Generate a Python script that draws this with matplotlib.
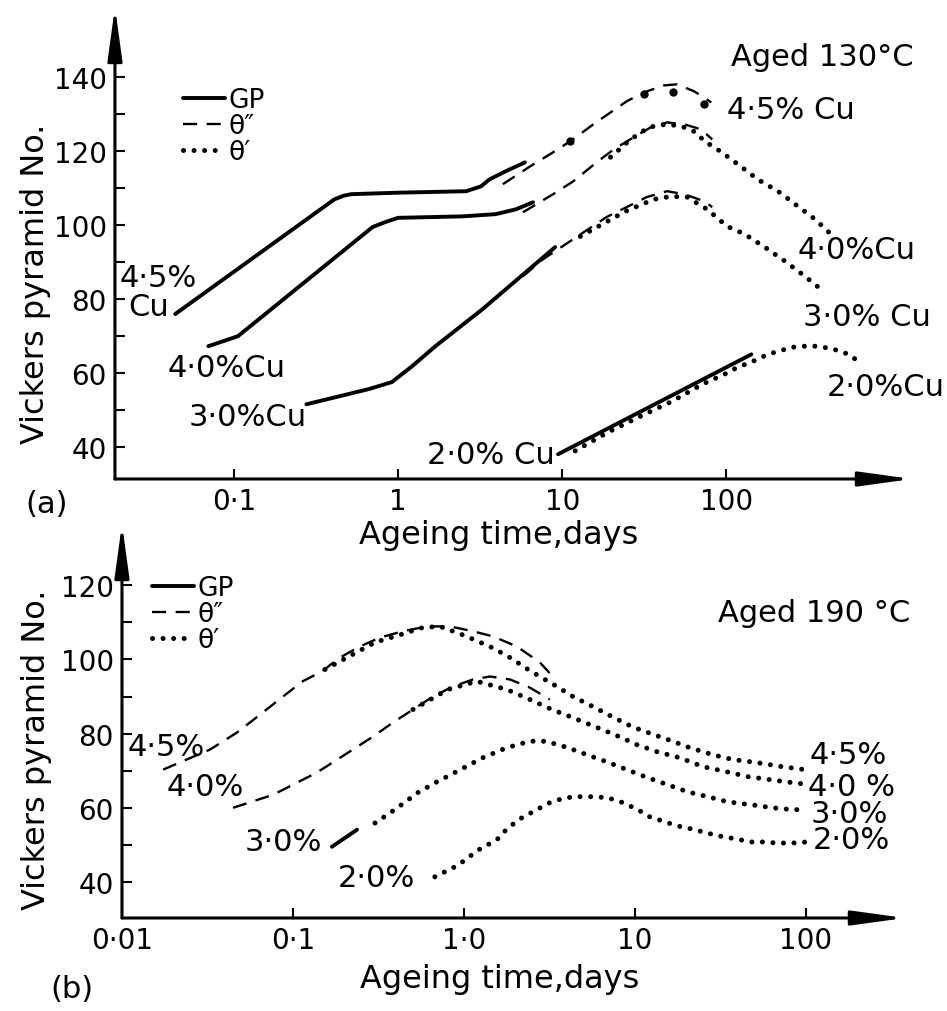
import matplotlib
matplotlib.use("Agg")
import matplotlib.pyplot as plt
from matplotlib.ticker import FixedLocator, NullLocator

plt.rcParams['font.family'] = ['DejaVu Sans']
FS = 20      # tick labels
FL = 22      # curve labels
FG = 19      # legend
FA = 23      # axis titles

# ---- (a) Aged 130 C : days vs Vickers hardness ----
a_gp45_t = [0.044, 0.41, 0.468, 0.52, 1.0, 2.6, 3.2, 3.61, 4.53, 5.93]
a_gp45_hv = [76, 107, 108.0, 108.4, 108.8, 109.2, 110.5, 112.4, 114.6, 117]
a_gp40_t = [0.070, 0.106, 0.7, 0.83, 1.0, 2.47, 3.94, 5.22, 6.64]
a_gp40_hv = [67.3, 70, 99.5, 100.8, 102.0, 102.4, 103.0, 104.3, 106.2]
a_gp30_t = [0.277, 0.664, 0.918, 1.22, 1.69, 3.27, 9.06]
a_gp30_hv = [51.6, 55.7, 57.6, 61.9, 67.3, 77.3, 94.1]
a_gp20_t = [9.44, 142]
a_gp20_hv = [38.1, 65.1]

a_th2_45_t = [4.35, 6.37, 8.43, 11.2, 15.5, 19.7, 24.7, 31.4, 41.7, 50.0, 63.7, 80.9]
a_th2_45_hv = [111.1, 115.9, 119.2, 122.7, 127.3, 130.5, 133.5, 135.9, 137.8, 138.1, 136.2, 133.2]
a_th2_40_t = [5.77, 8.81, 11.7, 16.2, 20.6, 27.3, 34.7, 43.5, 55.2, 70.3, 82.0]
a_th2_40_hv = [103.5, 108.4, 111.9, 117.0, 120.5, 123.8, 126.5, 127.8, 127.3, 125.9, 123.2]
a_th2_30_t = [5.77, 7.64, 13.5, 18.6, 24.7, 32.7, 43.5, 55.2, 73.3, 82.0]
a_th2_30_hv = [86.2, 90.8, 98.1, 102.2, 104.9, 107.6, 109.2, 108.4, 106.5, 104.9]

a_th1_45_t = [11.2, 31.4, 47.6, 73.3]
a_th1_45_hv = [122.7, 135.4, 135.9, 132.7]
a_th1_40_t = [19.7, 26.1, 33.7, 42.9, 53.0, 65.5, 73.3, 84.3, 97.2, 124, 155, 206, 273, 347, 447]
a_th1_40_hv = [118.4, 123.2, 126.5, 127.3, 126.8, 125.1, 122.7, 121.1, 119.2, 115.7, 112.4,
               109.2, 105.1, 101.6, 97.0]
a_th1_30_t = [12.9, 24.4, 36.1, 46.0, 57.7, 76.4, 101, 129, 171, 227, 301, 388]
a_th1_30_hv = [97.0, 103.8, 107.0, 107.8, 107.6, 104.3, 99.7, 97.6, 94.1, 90.3, 86.2, 82.2]
a_th1_20_t = [12.0, 19.1, 30.1, 46.7, 71.3, 97.2, 117, 145, 179, 217, 251, 301, 356, 417,
              493, 552, 610]
a_th1_20_hv = [39.0, 44.1, 48.4, 52.4, 57.0, 59.7, 61.6, 63.2, 65.1, 66.2, 67.0, 67.3, 67.3,
               66.8, 66.0, 65.1, 63.8]

# ---- (b) Aged 190 C ----
b_th2_45_t = [0.0174, 0.0327, 0.0471, 0.0641, 0.0875, 0.114, 0.148, 0.188, 0.247, 0.323,
              0.440, 0.608, 0.828, 1.13, 1.48, 2.04, 2.78, 3.31]
b_th2_45_hv = [70.3, 75.7, 80.3, 85.1, 90.0, 94.1, 96.8, 100.5, 103.5, 105.9, 107.6, 108.9,
               108.9, 107.6, 106.2, 103.5, 99.2, 95.4]
b_th2_40_t = [0.0446, 0.0764, 0.138, 0.224, 0.294, 0.385, 0.504, 0.659, 0.863, 1.13, 1.42,
              1.86, 2.43, 3.18]
b_th2_40_hv = [60.0, 63.5, 69.5, 75.7, 79.2, 83.0, 86.5, 90.0, 92.7, 94.6, 95.4, 94.6, 92.4, 89.2]
b_gp30_t = [0.169, 0.237]
b_gp30_hv = [49.5, 54.1]

b_th1_45_t = [0.154, 0.302, 0.434, 0.575, 0.724, 1.04, 1.46, 1.86, 2.37, 2.78, 3.50, 4.34,
              5.68, 7.33, 9.59, 11.9, 15.6, 21.0, 28.6, 37.4, 51.6, 72.4, 98.6]
b_th1_45_hv = [97.3, 104.6, 106.8, 108.6, 108.9, 106.2, 103.2, 100.5, 97.3, 95.4, 92.7, 90.0,
               87.3, 84.6, 81.9, 80.3, 78.4, 76.2, 74.3, 73.0, 72.2, 71.1, 70.3]
b_th1_40_t = [0.504, 0.805, 1.19, 1.78, 2.43, 3.27, 4.34, 5.83, 7.64, 10.3, 13.5, 18.3, 25.0,
              34.5, 45.8, 61.5, 82.8, 94.8]
b_th1_40_hv = [86.5, 91.9, 94.1, 91.9, 89.2, 86.5, 84.3, 81.9, 79.7, 77.0, 75.1, 73.5, 71.1,
               69.7, 68.4, 67.6, 66.8, 66.5]
b_th1_30_t = [0.302, 0.394, 0.538, 0.695, 0.885, 1.29, 1.78, 2.37, 2.71, 3.10, 4.06, 5.24,
              6.85, 8.97, 11.9, 15.6, 20.4, 26.7, 35.0, 48.3, 64.1, 83.9, 95.9]
b_th1_30_hv = [55.9, 59.5, 64.1, 67.0, 69.5, 73.5, 76.2, 77.8, 78.1, 77.8, 76.2, 74.3, 72.4,
               70.3, 68.1, 66.2, 64.3, 63.0, 61.6, 60.8, 60.0, 59.5, 59.5]
b_th1_20_t = [0.676, 0.923, 1.21, 1.56, 1.81, 2.18, 2.67, 3.18, 3.90, 4.65, 5.68, 6.95, 8.51,
              10.4, 12.2, 15.0, 17.8, 21.5, 26.4, 32.7, 39.4, 47.1, 56.1, 68.5, 82.8, 101]
b_th1_20_hv = [41.4, 44.5, 48.6, 51.4, 54.6, 57.3, 59.5, 61.4, 62.7, 63.0, 63.0, 62.7, 61.4,
               59.5, 57.6, 56.2, 55.1, 54.3, 53.2, 52.2, 51.6, 50.8, 50.8, 50.5, 50.5, 50.8]

a_xticks = [0.1, 1, 10, 100]
a_xlabels = ['0·1', '1', '10', '100']
a_yticks = [40, 60, 80, 100, 120, 140]
a_yminor = [50, 70, 90, 110, 130]
b_xticks = [0.01, 0.1, 1, 10, 100]
b_xlabels = ['0·01', '0·1', '1·0', '10', '100']
b_yticks = [40, 60, 80, 100, 120]
b_yminor = [50, 70, 90, 110]

GP = dict(color='black', lw=2.8, solid_capstyle='round')
TH2 = dict(color='black', lw=1.7, linestyle=(0, (6, 4)))
TH1 = dict(color='black', lw=3.6, linestyle=(0, (0.01, 2.1)), dash_capstyle='round')


def arrow_axes(ax, minor):
    for s in ax.spines.values():
        s.set_visible(False)
    kw = dict(arrowstyle='-|>,head_length=1.6,head_width=0.22', lw=2.2, color='black',
              shrinkA=0, shrinkB=0, mutation_scale=20)
    ax.annotate('', xy=(1, 0), xytext=(0, 0), xycoords='axes fraction',
                arrowprops=kw, annotation_clip=False)
    ax.annotate('', xy=(0, 1), xytext=(0, 0), xycoords='axes fraction',
                arrowprops=kw, annotation_clip=False)
    ax.set_xscale('log')
    ax.xaxis.set_minor_locator(NullLocator())
    ax.yaxis.set_minor_locator(FixedLocator(minor))
    ax.tick_params(which='both', direction='in', length=7, width=1.5, labelsize=FS, pad=6)


def legend(ax, anchor):
    ax.legend(loc='upper left', bbox_to_anchor=anchor, frameon=False, fontsize=FG,
              handlelength=1.6, handletextpad=0.15, labelspacing=0.0, borderpad=0,
              borderaxespad=0)


fig = plt.figure(figsize=(9.47, 10.12), dpi=100)

# ---- panel (a) ----
ax1 = fig.add_axes([0.1214, 0.5257, 0.8416, 0.4664])
arrow_axes(ax1, a_yminor)
ax1.set_xlim(0.0189, 1349)
ax1.set_ylim(31.4, 159)

ax1.plot(a_gp45_t, a_gp45_hv, label='GP', **GP)
ax1.plot(a_gp40_t, a_gp40_hv, **GP)
ax1.plot(a_gp30_t, a_gp30_hv, **GP)
ax1.plot(a_gp20_t, a_gp20_hv, **GP)
ax1.plot(a_th2_45_t, a_th2_45_hv, label='θ″', **TH2)
ax1.plot(a_th2_40_t, a_th2_40_hv, **TH2)
ax1.plot(a_th2_30_t, a_th2_30_hv, **TH2)
ax1.plot(a_th1_45_t, a_th1_45_hv, 'o', color='black', ms=5)
ax1.plot(a_th1_40_t, a_th1_40_hv, label='θ′', **TH1)
ax1.plot(a_th1_30_t, a_th1_30_hv, **TH1)
ax1.plot(a_th1_20_t, a_th1_20_hv, **TH1)

ax1.set_xticks(a_xticks, a_xlabels)
ax1.set_yticks(a_yticks)
legend(ax1, (0.085, 0.83))

ax1.text(0.0203, 86, '4·5%', fontsize=FL, va='center')
ax1.text(0.0227, 78.1, 'Cu', fontsize=FL, va='center')
ax1.text(0.0394, 61.6, '4·0%Cu', fontsize=FL, va='center')
ax1.text(0.053, 48.4, '3·0%Cu', fontsize=FL, va='center')
ax1.text(1.51, 38.1, '2·0% Cu', fontsize=FL, va='center')
ax1.text(101, 131.4, '4·5% Cu', fontsize=FL, va='center')
ax1.text(273, 93.5, '4·0%Cu', fontsize=FL, va='center')
ax1.text(293, 75.4, '3·0% Cu', fontsize=FL, va='center')
ax1.text(410, 56.5, '2·0%Cu', fontsize=FL, va='center')
ax1.text(107, 145.7, 'Aged 130°C', fontsize=FL, va='center')

# ---- panel (b) ----
ax2 = fig.add_axes([0.1288, 0.0919, 0.8268, 0.3893])
arrow_axes(ax2, b_yminor)
ax2.set_xlim(0.01, 380)
ax2.set_ylim(30.3, 136.5)

ax2.plot(b_gp30_t, b_gp30_hv, label='GP', **GP)
ax2.plot(b_th2_45_t, b_th2_45_hv, label='θ″', **TH2)
ax2.plot(b_th2_40_t, b_th2_40_hv, **TH2)
ax2.plot(b_th1_45_t, b_th1_45_hv, label='θ′', **TH1)
ax2.plot(b_th1_40_t, b_th1_40_hv, **TH1)
ax2.plot(b_th1_30_t, b_th1_30_hv, **TH1)
ax2.plot(b_th1_20_t, b_th1_20_hv, **TH1)

ax2.set_xticks(b_xticks, b_xlabels)
ax2.set_yticks(b_yticks)
legend(ax2, (0.038, 0.87))

ax2.text(0.01084, 76.5, '4·5%', fontsize=FL, va='center')
ax2.text(0.0183, 65.7, '4·0%', fontsize=FL, va='center')
ax2.text(0.0524, 50.8, '3·0%', fontsize=FL, va='center')
ax2.text(0.183, 41.1, '2·0%', fontsize=FL, va='center')
ax2.text(105, 74.3, '4·5%', fontsize=FL, va='center')
ax2.text(103, 65.7, '4·0 %', fontsize=FL, va='center')
ax2.text(107, 58.6, '3·0%', fontsize=FL, va='center')
ax2.text(110, 51.4, '2·0%', fontsize=FL, va='center')
ax2.text(30.5, 112.7, 'Aged 190 °C', fontsize=FL, va='center')

fig.text(0.527, 0.471, 'Ageing time,days', fontsize=FA, ha='center', va='center')
fig.text(0.528, 0.032, 'Ageing time,days', fontsize=FA, ha='center', va='center')
fig.text(0.037, 0.72, 'Vickers pyramid No.', fontsize=FA, rotation=90, ha='center', va='center')
fig.text(0.039, 0.259, 'Vickers pyramid No.', fontsize=FA, rotation=90, ha='center', va='center')
fig.text(0.049, 0.501, '(a)', fontsize=FL, ha='center', va='center')
fig.text(0.076, 0.022, '(b)', fontsize=FL, ha='center', va='center')

fig.savefig('out.png', dpi=100, facecolor='white')
